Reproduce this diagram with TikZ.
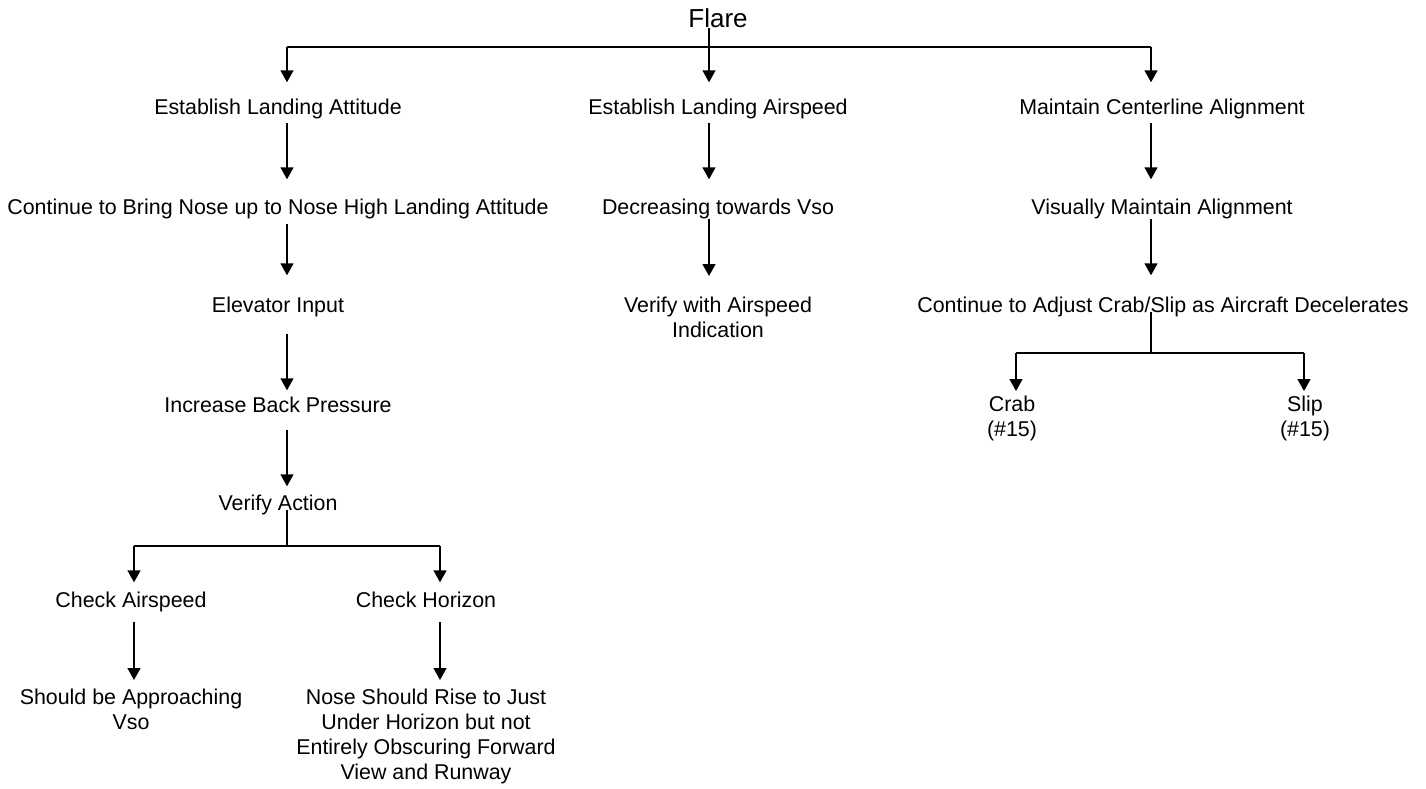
\documentclass[tikz,border=0pt]{standalone}
\usepackage{fontspec}
\setmainfont{Liberation Sans}
\usetikzlibrary{arrows.meta}
\tikzstyle{task}=[inner sep=0pt, anchor=base, text height=15.5pt, text depth=0pt, font=\fontsize{21.4}{25}\selectfont]
\tikzstyle{note}=[inner sep=0pt, anchor=north, align=center, font=\fontsize{21.4}{25}\selectfont]
\tikzstyle{bar}=[line width=1.5pt]
\tikzstyle{flow}=[bar, -{Triangle[width=13pt,length=12pt]}]

\begin{document}
\begin{tikzpicture}[x=1pt, y=-1pt]
    \useasboundingbox (0,0) rectangle (1426,789);
    % columns of the arrows
    \coordinate (c1) at (287,0);
    \coordinate (c2) at (709,0);
    \coordinate (c3) at (1151,0);
    \coordinate (ca) at (134,0);
    \coordinate (ch) at (440,0);
    \coordinate (cc) at (1016,0);
    \coordinate (cs) at (1304,0);
    % texts
    \node [task, text height=19pt, font=\fontsize{26}{30}\selectfont] (flare) at (718,28) {Flare};
    \node [task] (att) at (278,114) {Establish Landing Attitude};
    \node [task] (asp) at (718,114) {Establish Landing Airspeed};
    \node [task] (cen) at (1162,114) {Maintain Centerline Alignment};
    \node [task] (nose) at (278,214) {Continue to Bring Nose up to Nose High Landing Attitude};
    \node [task] (dec) at (718,214) {Decreasing towards Vso};
    \node [task] (vis) at (1162,214) {Visually Maintain Alignment};
    \node [task] (elev) at (278,312) {Elevator Input};
    \node [note] (vfy) at (718,297) {Verify with Airspeed\\Indication};
    \node [task] (adj) at (1163,312) {Continue to Adjust Crab/Slip as Aircraft Decelerates};
    \node [task] (back) at (278,412) {Increase Back Pressure};
    \node [note] (crab) at (1012,396) {Crab\\(\#15)};
    \node [note] (slip) at (1305,396) {Slip\\(\#15)};
    \node [task] (act) at (278,510) {Verify Action};
    \node [task] (chka) at (131,607) {Check Airspeed};
    \node [task] (chkh) at (426,607) {Check Horizon};
    \node [note] (vso) at (131,689) {Should be Approaching\\Vso};
    \node [note] (hor) at (426,689) {Nose Should Rise to Just\\Under Horizon but not\\Entirely Obscuring Forward\\View and Runway};
    % top branch
    \coordinate (top) at (709,47);
    \draw [bar] (top -| c1) -- (top -| c3);
    \draw [flow, shorten >=16pt] (flare.base -| c2) -- (asp.north -| c2);
    \draw [flow, shorten >=16pt] (top -| c1) -- (att.north -| c1);
    \draw [flow, shorten >=16pt] (top -| c3) -- (cen.north -| c3);
    % down the columns
    \draw [flow, shorten <=9pt, shorten >=19pt] (att.south -| c1) -- (nose.north -| c1);
    \draw [flow, shorten <=9pt, shorten >=19pt] (asp.south -| c2) -- (dec.north -| c2);
    \draw [flow, shorten <=9pt, shorten >=19pt] (cen.south -| c3) -- (vis.north -| c3);
    \draw [flow, shorten <=10pt, shorten >=21pt] (nose.south -| c1) -- (elev.north -| c1);
    \draw [flow, shorten <=5pt, shorten >=21pt] (dec.south -| c2) -- (vfy.north -| c2);
    \draw [flow, shorten <=5pt, shorten >=21pt] (vis.south -| c3) -- (adj.north -| c3);
    \draw [flow, shorten <=22pt, shorten >=6pt] (elev.south -| c1) -- (back.north -| c1);
    \draw [flow, shorten <=18pt, shorten >=8pt] (back.south -| c1) -- (act.north -| c1);
    % crab or slip
    \coordinate (cbar) at (1151,353);
    \draw [bar] (adj.south -| c3) -- (cbar);
    \draw [bar] (cbar -| cc) -- (cbar -| cs);
    \draw [flow, shorten >=5pt] (cbar -| cc) -- (crab.north -| cc);
    \draw [flow, shorten >=5pt] (cbar -| cs) -- (slip.north -| cs);
    % checks
    \coordinate (vbar) at (287,546);
    \draw [bar] (act.south -| c1) -- (vbar);
    \draw [bar] (vbar -| ca) -- (vbar -| ch);
    \draw [flow, shorten >=9pt] (vbar -| ca) -- (chka.north -| ca);
    \draw [flow, shorten >=9pt] (vbar -| ch) -- (chkh.north -| ch);
    \draw [flow, shorten <=15pt, shorten >=9pt] (chka.south -| ca) -- (vso.north -| ca);
    \draw [flow, shorten <=15pt, shorten >=9pt] (chkh.south -| ch) -- (hor.north -| ch);
\end{tikzpicture}
\end{document}
